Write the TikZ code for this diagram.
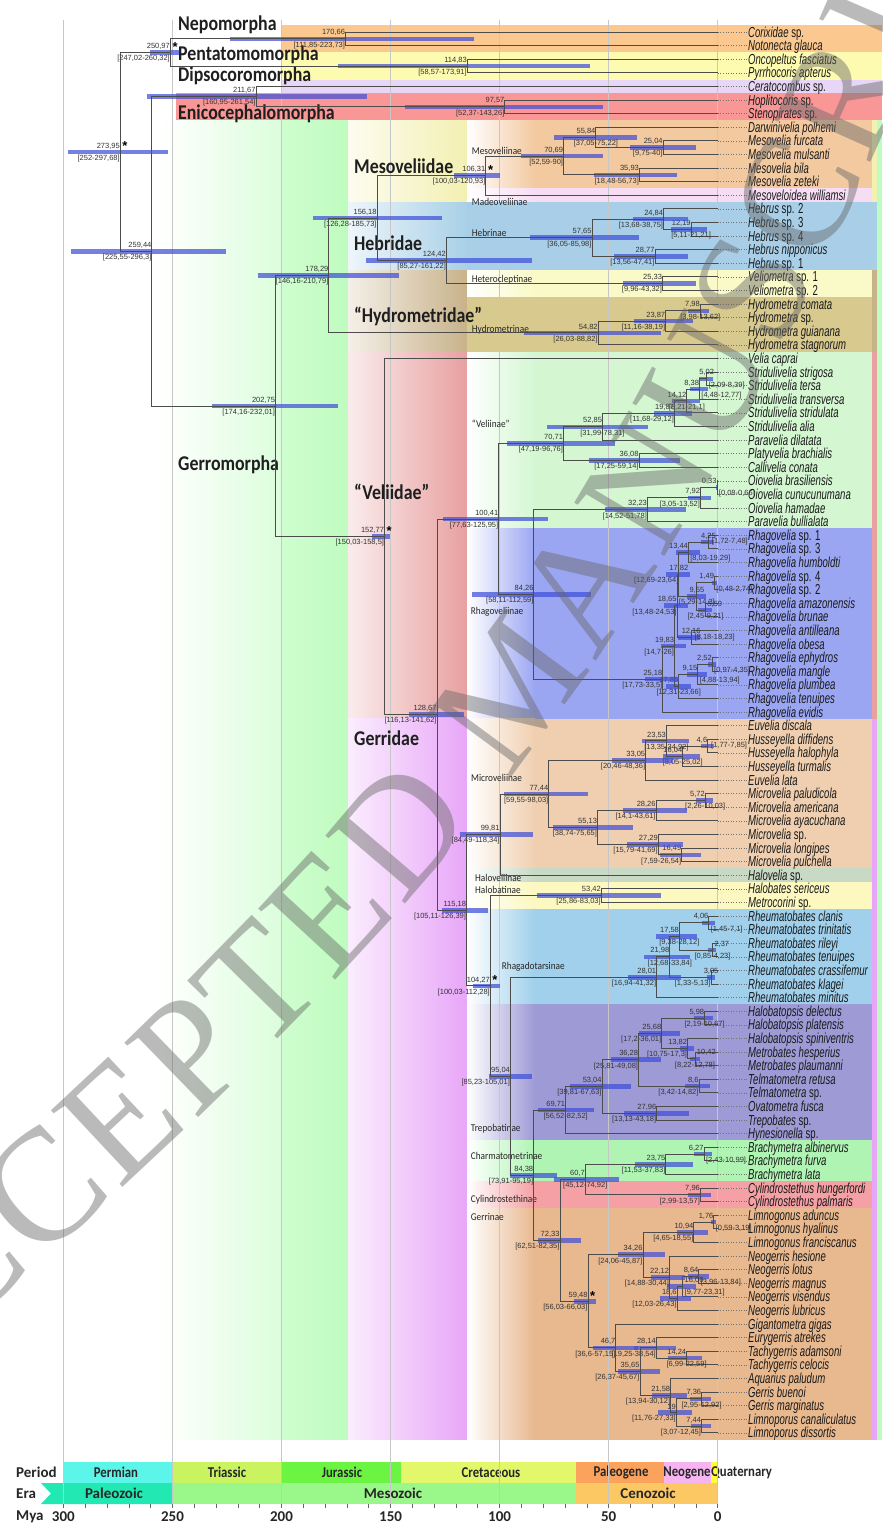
\documentclass[tikz,border=0pt]{standalone}
\usepackage{fontspec}
\usepackage{xstring}
\usetikzlibrary{calc,decorations.text}
\setmainfont{Liberation Sans}
\newfontfamily\numfont{Liberation Sans}
\newfontfamily\taxfont[FakeStretch=0.66]{Liberation Sans}
\newfontfamily\cladefont[FakeStretch=0.85]{Carlito}
\newfontfamily\subfont[FakeStretch=0.89]{Carlito}
\newfontfamily\geofont{Carlito}
\newfontfamily\wmfont{Liberation Serif}

% band colours
\definecolor{nepo}{HTML}{FBC98F}
\definecolor{penta}{HTML}{FDFBB0}
\definecolor{dipso}{HTML}{E7D6F6}
\definecolor{enico}{HTML}{F99797}
\definecolor{gerro}{HTML}{BFFCBF}
\definecolor{mesofam}{HTML}{F3F0B2}
\definecolor{mesosub}{HTML}{F3C9A0}
\definecolor{madeo}{HTML}{F6DDF4}
\definecolor{hebfam}{HTML}{A8D0E7}
\definecolor{hebsub}{HTML}{A9CFE8}
\definecolor{hetero}{HTML}{FAFAC8}
\definecolor{hydrofam}{HTML}{C8B28A}
\definecolor{hydrosub}{HTML}{D8C98F}
\definecolor{velfam}{HTML}{E8A0A0}
\definecolor{veliinae}{HTML}{D4F7D2}
\definecolor{rhago}{HTML}{9BA6F2}
\definecolor{gerfam}{HTML}{E8A6F8}
\definecolor{micro}{HTML}{F0CFB0}
\definecolor{halove}{HTML}{C8D9C5}
\definecolor{halobat}{HTML}{FCF8C0}
\definecolor{rhagad}{HTML}{A0D0EC}
\definecolor{trepo}{HTML}{9E9AD6}
\definecolor{charma}{HTML}{B0F4B4}
\definecolor{cylin}{HTML}{F4A0A4}
\definecolor{gerrinae}{HTML}{E8B88E}
\definecolor{hpd}{HTML}{3F4FD8}
% time scale colours
\definecolor{permian}{HTML}{5CF5EA}
\definecolor{triassic}{HTML}{C9F35F}
\definecolor{jurassic}{HTML}{6BF542}
\definecolor{cretaceous}{HTML}{E2F76A}
\definecolor{paleogene}{HTML}{FBA35C}
\definecolor{neogene}{HTML}{F6B4F0}
\definecolor{quaternary}{HTML}{FFFF33}
\definecolor{paleozoic}{HTML}{22E8B4}
\definecolor{mesozoic}{HTML}{9AF88A}
\definecolor{cenozoic}{HTML}{FCC864}

% Mya -> x
\newcommand\mx[1]{717.7-2.181*(#1)}

\tikzset{
  aC/.style={cladeage/.style={anchor=south}},
  aR/.style={cladeage/.style={anchor=south west,xshift=1.5pt}},
  hC/.style={cladehpd/.style={anchor=north}},
  hR/.style={cladehpd/.style={anchor=north west,xshift=1.5pt}},
  hW/.style={cladehpd/.style={anchor=west,xshift=3pt,yshift=2.4pt}},
  starred/.code={\def\cladestar{*}}
}

% \clade[opts]{name}{age}{hpd low}{hpd high}{child 1}{child 2}
\newcommand\clade[7][]{%
  \tikzset{cladeage/.style={anchor=south east},cladehpd/.style={anchor=north east}}%
  \def\cladestar{}%
  \tikzset{#1}%
  \coordinate (tmp) at ($(#6)!0.5!(#7)$);
  \coordinate (#2) at ({\mx{#3}},0 |- tmp);
  \draw[hpdbar] ({\mx{#5}},0 |- #2) -- ({\mx{#4}},0 |- #2);
  \draw[branch] (#6) -| (#2) |- (#7);
  \node[agelbl,cladeage] (#2-a) at ([yshift=2.4pt]#2) {\StrSubstitute{#3}{.}{,}};
  \node[agelbl,cladehpd] (#2-h) at ([yshift=-2.4pt]#2) {[\StrSubstitute{#4}{.}{,}-\StrSubstitute{#5}{.}{,}]};
  \ifx\cladestar\empty\else
    \node[starlbl] (#2-s) at ([xshift=2pt,yshift=1pt]#2) {*};
  \fi
}

\begin{document}
\begin{tikzpicture}[x=1pt, y=-1pt,
    branch/.style={draw=black!70, line width=0.9pt},
    hpdbar/.style={draw=hpd, line width=4.6pt, opacity=0.72},
    agelbl/.style={font=\numfont\fontsize{7.5}{8}\selectfont, text=black!80, inner sep=0.3pt},
    starlbl/.style={font=\numfont\bfseries\fontsize{13}{13}\selectfont, anchor=south west, inner sep=0pt},
    taxon/.style={font=\taxfont\fontsize{14.5}{15}\selectfont, anchor=base west, inner sep=0pt, text=black!90},
    leafdot/.style={draw=black!55, dotted, line width=0.6pt},
    grp/.style={font=\cladefont\bfseries\fontsize{21}{21}\selectfont, anchor=base west, inner sep=0pt, text=black!88},
    subgrp/.style={font=\subfont\fontsize{10.4}{11}\selectfont, anchor=base west, inner sep=0pt, text=black!85},
    grid/.style={draw=black!22, line width=0.8pt},
    geo/.style={font=\geofont\bfseries\fontsize{15}{15}\selectfont, inner sep=0pt, text=black!85},
    period/.style={font=\cladefont\bfseries\fontsize{15}{15}\selectfont, inner sep=0pt, text=black!85},
    tick/.style={draw=black!60, line width=0.6pt}
  ]
  \useasboundingbox (0,0) rectangle (883,1532);

  % outgroup bands
  \fill[nepo] (282,25.2) rectangle (882,52.4);
  \fill[penta] (282,52.4) rectangle (882,79.6);
  \fill[dipso] (282,79.6) rectangle (882,93.2);
  \fill[enico] (176,93.2) rectangle (882,120.4);

  % Gerromorpha background
  \shade[left color=white, right color=gerro!55] (160,120.4) rectangle (282,1439.6);
  \shade[left color=gerro!75, right color=gerro] (282,120.4) rectangle (348,1439.6);
  \fill[gerro] (877,120.4) rectangle (882,1439.6);

  % family bands
  \foreach \ya/\yb/\cl in {120.4/202/mesofam, 202/270/hebfam, 270/351.6/hydrofam,
      351.6/718.8/velfam, 718.8/1439.6/gerfam}{
    \shade[left color=\cl!20, right color=\cl] (348,\ya) rectangle (467,\yb);
    \fill[\cl] (872,\ya) rectangle (877,\yb);
  }
  % subfamily bands
  \foreach \ya/\yb/\cl in {120.4/188.4/mesosub, 188.4/202/madeo, 270/297.2/hetero,
      351.6/528.4/veliinae, 528.4/718.8/rhago, 718.8/868.4/micro, 868.4/882/halove,
      882/909.2/halobat, 909.2/1004.4/rhagad, 1004.4/1140.4/trepo, 1140.4/1181.2/charma,
      1181.2/1208.4/cylin, 1208.4/1439.6/gerrinae}{
    \shade[left color=white, right color=\cl] (467,\ya) rectangle (535,\yb);
    \fill[\cl] (535,\ya) rectangle (872,\yb);
  }
  \fill[hebsub] (467,202) rectangle (872,270);
  \fill[hydrosub] (467,297.2) rectangle (872,351.6);

  % time scale
  \fill[permian] ({\mx{300}},1462) rectangle ({\mx{250}},1483);
  \fill[triassic] ({\mx{250}},1462) rectangle ({\mx{200}},1483);
  \fill[jurassic] ({\mx{200}},1462) rectangle ({\mx{145}},1483);
  \fill[cretaceous] ({\mx{145}},1462) rectangle ({\mx{65}},1483);
  \fill[paleogene] ({\mx{65}},1462) rectangle ({\mx{24.5}},1483);
  \fill[neogene] ({\mx{24.5}},1462) rectangle ({\mx{3}},1483);
  \fill[quaternary] ({\mx{3}},1462) rectangle ({\mx{0}},1483);
  \fill[paleozoic] (41,1483) -- ({\mx{250}},1483) -- ({\mx{250}},1504) -- (41,1504) -- (51,1493.5) -- cycle;
  \fill[mesozoic] ({\mx{250}},1483) rectangle ({\mx{65}},1504);
  \fill[cenozoic] ({\mx{65}},1483) rectangle ({\mx{0}},1504);

  \node[geo, anchor=west] (lPeriod) at (16,1472.5) {Period};
  \node[geo, anchor=west] (lEra) at (16,1493.5) {Era};
  \node[geo, anchor=west] (lMya) at (16,1517) {Mya};
  \node[period] (pPerm) at (116,1472.5) {Permian};
  \node[period] (pTri) at (227,1472.5) {Triassic};
  \node[period] (pJur) at (342,1472.5) {Jurassic};
  \node[period] (pCre) at (491,1472.5) {Cretaceous};
  \node[period] (pPal) at (621,1472.5) {Paleogene};
  \node[period] (pNeo) at (687,1472.5) {Neogene};
  \node[period, anchor=west] (pQua) at (711,1472.5) {Quaternary};
  \node[geo] (ePal) at (114,1493.5) {Paleozoic};
  \node[geo] (eMes) at (393,1493.5) {Mesozoic};
  \node[geo] (eCen) at (648,1493.5) {Cenozoic};
  \foreach \t in {0,10,...,300}
    \draw[tick] ({\mx{\t}},1504) -- ({\mx{\t}},1507.5);
  \foreach \t in {300,250,...,0}
    \node[geo] (mya\t) at ({\mx{\t}},1517) {\t};

  % grid lines
  \foreach \t in {300,250,...,0}
    \draw[grid] ({\mx{\t}},20) -- ({\mx{\t}},1504);

  % group labels
  \node[grp] (gNep) at (178,30.7) {Nepomorpha};
  \node[grp] (gPen) at (178,60.7) {Pentatomomorpha};
  \node[grp] (gDip) at (178,81.7) {Dipsocoromorpha};
  \node[grp] (gEni) at (178,119) {Enicocephalomorpha};
  \node[grp] (gGer) at (178,470.6) {Gerromorpha};
  \node[grp] (fMes) at (354,173.3) {Mesoveliidae};
  \node[grp] (fHeb) at (354,250) {Hebridae};
  \node[grp] (fHyd) at (354,322) {“Hydrometridae”};
  \node[grp] (fVel) at (354,499) {“Veliidae”};
  \node[grp] (fGer) at (354,745) {Gerridae};

  \node[subgrp] (sMes) at (471.7,154) {Mesoveliinae};
  \node[subgrp] (sMad) at (471.7,205) {Madeoveliinae};
  \node[subgrp] (sHeb) at (471.7,236.7) {Hebrinae};
  \node[subgrp] (sHet) at (471.7,282.7) {Heterocleptinae};
  \node[subgrp] (sHyd) at (471.7,332.7) {Hydrometrinae};
  \node[subgrp] (sVel) at (471.7,427.3) {“Veliinae”};
  \node[subgrp] (sRha) at (470.7,614) {Rhagoveliinae};
  \node[subgrp] (sMic) at (471,781.7) {Microveliinae};
  \node[subgrp] (sHav) at (475,881.7) {Haloveliinae};
  \node[subgrp] (sHab) at (475,893.3) {Halobatinae};
  \node[subgrp] (sRhd) at (501.7,969.3) {Rhagadotarsinae};
  \node[subgrp] (sTre) at (470.7,1131.7) {Trepobatinae};
  \node[subgrp] (sCha) at (470.7,1159.3) {Charmatometrinae};
  \node[subgrp] (sCyl) at (470.7,1202.7) {Cylindrostethinae};
  \node[subgrp] (sGrr) at (470.7,1220) {Gerrinae};

  % tips
  \foreach \i/\nm in {1/{\textit{Corixidae} sp.}, 2/{\textit{Notonecta glauca}},
      3/{\textit{Oncopeltus fasciatus}}, 4/{\textit{Pyrrhocoris apterus}},
      5/{\textit{Ceratocombus} sp.}, 6/{\textit{Hoplitocoris} sp.}, 7/{\textit{Stenopirates} sp.},
      8/{\textit{Darwinivelia polhemi}}, 9/{\textit{Mesovelia furcata}}, 10/{\textit{Mesovelia mulsanti}},
      11/{\textit{Mesovelia bila}}, 12/{\textit{Mesovelia zeteki}}, 13/{\textit{Mesoveloidea williamsi}},
      14/{\textit{Hebrus} sp. 2}, 15/{\textit{Hebrus} sp. 3}, 16/{\textit{Hebrus} sp. 4},
      17/{\textit{Hebrus nipponicus}}, 18/{\textit{Hebrus} sp. 1}, 19/{\textit{Veliometra} sp. 1},
      20/{\textit{Veliometra} sp. 2}, 21/{\textit{Hydrometra comata}}, 22/{\textit{Hydrometra} sp.},
      23/{\textit{Hydrometra guianana}}, 24/{\textit{Hydrometra stagnorum}}, 25/{\textit{Velia caprai}},
      26/{\textit{Stridulivelia strigosa}}, 27/{\textit{Stridulivelia tersa}},
      28/{\textit{Stridulivelia transversa}}, 29/{\textit{Stridulivelia stridulata}},
      30/{\textit{Stridulivelia alia}}, 31/{\textit{Paravelia dilatata}},
      32/{\textit{Platyvelia brachialis}}, 33/{\textit{Callivelia conata}},
      34/{\textit{Oiovelia brasiliensis}}, 35/{\textit{Oiovelia cunucunumana}},
      36/{\textit{Oiovelia hamadae}}, 37/{\textit{Paravelia bullialata}},
      38/{\textit{Rhagovelia} sp. 1}, 39/{\textit{Rhagovelia} sp. 3}, 40/{\textit{Rhagovelia humboldti}},
      41/{\textit{Rhagovelia} sp. 4}, 42/{\textit{Rhagovelia} sp. 2}, 43/{\textit{Rhagovelia amazonensis}},
      44/{\textit{Rhagovelia brunae}}, 45/{\textit{Rhagovelia antilleana}}, 46/{\textit{Rhagovelia obesa}},
      47/{\textit{Rhagovelia ephydros}}, 48/{\textit{Rhagovelia mangle}}, 49/{\textit{Rhagovelia plumbea}},
      50/{\textit{Rhagovelia tenuipes}}, 51/{\textit{Rhagovelia evidis}}, 52/{\textit{Euvelia discala}},
      53/{\textit{Husseyella diffidens}}, 54/{\textit{Husseyella halophyla}},
      55/{\textit{Husseyella turmalis}}, 56/{\textit{Euvelia lata}}, 57/{\textit{Microvelia paludicola}},
      58/{\textit{Microvelia americana}}, 59/{\textit{Microvelia ayacuchana}}, 60/{\textit{Microvelia} sp.},
      61/{\textit{Microvelia longipes}}, 62/{\textit{Microvelia pulchella}}, 63/{\textit{Halovelia} sp.},
      64/{\textit{Halobates sericeus}}, 65/{\textit{Metrocorini} sp.}, 66/{\textit{Rheumatobates clanis}},
      67/{\textit{Rheumatobates trinitatis}}, 68/{\textit{Rheumatobates rileyi}},
      69/{\textit{Rheumatobates tenuipes}}, 70/{\textit{Rheumatobates crassifemur}},
      71/{\textit{Rheumatobates klagei}}, 72/{\textit{Rheumatobates minitus}},
      73/{\textit{Halobatopsis delectus}}, 74/{\textit{Halobatopsis platensis}},
      75/{\textit{Halobatopsis spiniventris}}, 76/{\textit{Metrobates hesperius}},
      77/{\textit{Metrobates plaumanni}}, 78/{\textit{Telmatometra retusa}}, 79/{\textit{Telmatometra} sp.},
      80/{\textit{Ovatometra fusca}}, 81/{\textit{Trepobates} sp.}, 82/{\textit{Hynesionella} sp.},
      83/{\textit{Brachymetra albinervus}}, 84/{\textit{Brachymetra furva}}, 85/{\textit{Brachymetra lata}},
      86/{\textit{Cylindrostethus hungerfordi}}, 87/{\textit{Cylindrostethus palmaris}},
      88/{\textit{Limnogonus aduncus}}, 89/{\textit{Limnogonus hyalinus}},
      90/{\textit{Limnogonus franciscanus}}, 91/{\textit{Neogerris hesione}}, 92/{\textit{Neogerris lotus}},
      93/{\textit{Neogerris magnus}}, 94/{\textit{Neogerris visendus}}, 95/{\textit{Neogerris lubricus}},
      96/{\textit{Gigantometra gigas}}, 97/{\textit{Eurygerris atrekes}}, 98/{\textit{Tachygerris adamsoni}},
      99/{\textit{Tachygerris celocis}}, 100/{\textit{Aquarius paludum}}, 101/{\textit{Gerris buenoi}},
      102/{\textit{Gerris marginatus}}, 103/{\textit{Limnoporus canaliculatus}},
      104/{\textit{Limnoporus dissortis}}}{
    \coordinate (t\i) at ({\mx{0}},{32+13.6*(\i-1)});
    \node[taxon] (n\i) at (748,{37+13.6*(\i-1)}) {\nm};
    \draw[leafdot] (t\i) -- (t\i -| n\i.west);
  }

  % outgroups
  \clade{nep}{170.66}{111.85}{223.73}{t1}{t2}
  \clade{pen}{114.83}{58.57}{173.91}{t3}{t4}
  \clade[starred]{np}{250.97}{247.02}{260.32}{nep}{pen}
  \clade{eni}{97.57}{52.37}{143.26}{t6}{t7}
  \clade{dip}{211.67}{160.95}{261.54}{t5}{eni}

  % Mesoveliidae
  \clade{m25}{25.04}{9.75}{40}{t9}{t10}
  \clade[hC]{m55}{55.84}{37.05}{75.22}{t8}{m25}
  \clade{m35}{35.93}{18.48}{56.73}{t11}{t12}
  \clade{mves}{70.69}{52.59}{90}{m55}{m35}
  \clade[starred]{meso}{106.31}{100.03}{120.93}{mves}{t13}

  % Hebridae
  \clade[hC]{h12}{12.19}{5.11}{21.21}{t15}{t16}
  \clade{h24}{24.84}{13.68}{38.75}{t14}{h12}
  \clade{h28}{28.77}{13.56}{47.41}{t17}{t18}
  \clade{h57}{57.65}{36.05}{85.98}{h24}{h28}
  \clade{h25}{25.33}{9.96}{43.32}{t19}{t20}
  \clade{heb}{124.42}{85.27}{161.22}{h57}{h25}
  \clade{mh}{156.18}{126.28}{185.73}{meso}{heb}

  % Hydrometridae
  \clade[hC]{y7}{7.98}{3.98}{13.62}{t21}{t22}
  \clade{y23}{23.87}{11.16}{38.19}{y7}{t23}
  \clade{y54}{54.82}{26.03}{88.82}{y23}{t24}
  \clade{mhh}{178.29}{146.16}{210.79}{mh}{y54}

  % Veliinae
  \clade[aC,hR]{v5}{5.02}{2.09}{8.39}{t26}{t27}
  \clade[hR]{v8}{8.38}{4.48}{12.77}{v5}{t28}
  \clade[hC]{v14}{14.12}{8.21}{21.1}{v8}{t29}
  \clade{v19}{19.87}{11.68}{29.12}{v14}{t30}
  \clade[hC]{v52}{52.85}{31.99}{78.31}{v19}{t31}
  \clade{v36}{36.08}{17.25}{59.14}{t32}{t33}
  \clade{vel}{70.71}{47.19}{96.76}{v52}{v36}

  % Rhagoveliinae
  \clade[hR]{o0}{0.33}{0.08}{0.66}{t34}{t35}
  \clade{o7}{7.92}{3.05}{13.52}{o0}{t36}
  \clade{o32}{32.23}{14.52}{51.78}{o7}{t37}
  \clade[aC,hW]{r4}{4.25}{1.72}{7.48}{t38}{t39}
  \clade[hR]{r13}{13.44}{8.03}{19.29}{r4}{t40}
  \clade[hR]{r1}{1.49}{0.48}{2.74}{t41}{t42}
  \clade[aR,hC]{r5}{5.59}{2.45}{9.21}{t43}{t44}
  \clade[aC,hC]{r9}{9.55}{5.29}{14.3}{r1}{r5}
  \clade[aC]{r17}{17.82}{12.69}{23.64}{r13}{r9}
  \clade[aC,hW]{r12}{12.16}{8.18}{18.23}{t45}{t46}
  \clade{r18}{18.65}{13.48}{24.53}{r17}{r12}
  \clade[hR]{r2}{2.52}{0.97}{4.35}{t47}{t48}
  \clade[hR]{r9b}{9.15}{4.88}{13.94}{r2}{t49}
  \clade[hC]{r17b}{17.86}{12.31}{23.66}{r9b}{t50}
  \clade{r19}{19.83}{14.7}{26}{r18}{r17b}
  \clade{r25}{25.18}{17.73}{33.5}{r19}{t51}
  \clade{rha}{84.26}{58.11}{112.59}{o32}{r25}
  \clade{vr}{100.41}{77.63}{125.95}{vel}{rha}

  % Microveliinae
  \clade[hW]{u4}{4.6}{1.77}{7.85}{t53}{t54}
  \clade[hC]{u16}{16.04}{8.05}{25.02}{u4}{t55}
  \clade[hC]{u23}{23.53}{13.35}{34.92}{t52}{u16}
  \clade{u33}{33.05}{20.46}{48.36}{u23}{t56}
  \clade[hC]{u5}{5.72}{2.26}{10.03}{t57}{t58}
  \clade{u28}{28.26}{14.1}{43.61}{u5}{t59}
  \clade{u16b}{16.49}{7.59}{26.54}{t61}{t62}
  \clade{u27}{27.29}{15.79}{41.69}{t60}{u16b}
  \clade{u55}{55.13}{38.74}{75.65}{u28}{u27}
  \clade{mic}{77.44}{59.55}{98.03}{u33}{u55}
  \clade{mha}{99.81}{84.49}{118.34}{mic}{t63}

  % Gerridae
  \clade{hb}{53.42}{25.86}{83.03}{t64}{t65}
  \clade[hR]{k4}{4.06}{1.45}{7.1}{t66}{t67}
  \clade[aR,hC]{k2}{2.37}{0.85}{4.23}{t68}{t69}
  \clade[hC]{k17}{17.58}{9.38}{28.12}{k4}{k2}
  \clade[aC]{k3}{3.05}{1.33}{5.13}{t70}{t71}
  \clade[hC]{k21}{21.98}{12.68}{33.84}{k17}{k3}
  \clade{k28}{28.01}{16.94}{41.32}{k21}{t72}

  \clade[hC]{p5}{5.98}{2.19}{10.67}{t73}{t74}
  \clade[aR,hC]{p10}{10.42}{8.22}{12.78}{t76}{t77}
  \clade{p13}{13.82}{10.75}{17.3}{t75}{p10}
  \clade{p25}{25.68}{17.2}{36.01}{p5}{p13}
  \clade{p8}{8.6}{3.42}{14.82}{t78}{t79}
  \clade{p36}{36.28}{25.81}{49.08}{p25}{p8}
  \clade{p27}{27.96}{13.13}{43.18}{t80}{t81}
  \clade{p53}{53.04}{39.81}{67.63}{p36}{p27}
  \clade[hC]{tre}{69.71}{56.52}{82.52}{p53}{t82}

  \clade[hR]{c6}{6.27}{2.43}{10.99}{t83}{t84}
  \clade{c23}{23.75}{11.53}{37.83}{c6}{t85}
  \clade{cy}{7.96}{2.99}{13.57}{t86}{t87}
  \clade[hC]{cc}{60.7}{45.12}{74.92}{c23}{cy}

  \clade[hR]{g1}{1.76}{0.59}{3.19}{t88}{t89}
  \clade{g10}{10.94}{4.65}{18.55}{g1}{t90}
  \clade[hR]{g8}{8.64}{3.96}{13.84}{t92}{t93}
  \clade[aR,hR]{g16}{16.06}{9.77}{23.31}{g8}{t94}
  \clade{g18}{18.6}{12.03}{26.43}{g16}{t95}
  \clade{g22}{22.12}{14.88}{30.44}{t91}{g18}
  \clade{g34}{34.26}{24.06}{45.87}{g10}{g22}
  \clade[hC]{g14}{14.24}{6.99}{22.59}{t98}{t99}
  \clade{g28}{28.14}{19.25}{38.54}{t97}{g14}
  \clade[hC]{g7}{7.36}{2.95}{12.92}{t101}{t102}
  \clade{g7b}{7.44}{3.07}{12.45}{t103}{t104}
  \clade{g19}{19}{11.76}{27.33}{g7}{g7b}
  \clade{g21}{21.58}{13.94}{30.12}{t100}{g19}
  \clade{g35}{35.65}{26.37}{45.67}{g28}{g21}
  \clade{g46}{46.7}{36.6}{57.15}{t96}{g35}
  \clade[starred]{ger}{59.48}{56.03}{66.03}{g34}{g46}

  \clade{g72}{72.33}{62.51}{82.35}{cc}{ger}
  \clade{g84}{84.38}{73.91}{95.19}{tre}{g72}
  \clade{g95}{95.04}{85.23}{105.01}{k28}{g84}
  \clade[starred]{gerr}{104.27}{100.03}{112.28}{hb}{g95}
  \clade{gm}{115.18}{105.11}{126.39}{mha}{gerr}
  \clade{vg}{128.67}{116.13}{141.62}{vr}{gm}
  \clade[starred]{vgv}{152.77}{150.03}{158.5}{t25}{vg}

  % backbone
  \clade{gerro}{202.75}{174.16}{232.01}{mhh}{vgv}
  \clade{nong}{259.44}{225.55}{296.3}{dip}{gerro}
  \clade[starred]{root}{273.95}{252}{297.68}{np}{nong}

  % watermark
  \begin{scope}[opacity=0.45]
    \path[decorate, decoration={text along path, text align=fit to path, raise=-53pt,
        text={|\wmfont\fontsize{160}{160}\selectfont\color{black!60}|ACCEPTED MANUSCRIPT}}]
      (-170,1375) .. controls (470,830) and (650,580) .. (960,-180);
  \end{scope}
\end{tikzpicture}
\end{document}
